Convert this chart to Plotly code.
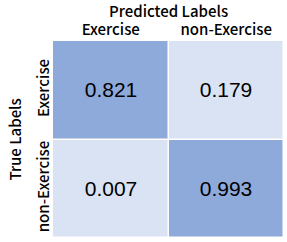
import plotly.graph_objects as go

pred_labels = ["Exercise", "non-Exercise"]
true_labels = ["Exercise", "non-Exercise"]
values = [[0.821, 0.179],
          [0.007, 0.993]]
x_title = "Predicted Labels"
y_title = "True Labels"

light = "#dae3f3"
dark = "#8eaadb"

fig = go.Figure(go.Heatmap(
    z=values, x=pred_labels, y=true_labels,
    text=[[f"{v:.3f}" for v in row] for row in values],
    texttemplate="%{text}",
    textfont=dict(family="Liberation Sans, Arial", size=21, color="black"),
    colorscale=[[0, light], [0.5, light], [0.5, dark], [1, dark]],
    zmin=0, zmax=1, showscale=False, xgap=1.5, ygap=1.5, hoverinfo="skip",
))

lab_font = dict(family="Noto Sans CJK SC", size=15, color="black", weight=500)
fig.update_layout(
    width=287, height=242,
    margin=dict(l=53, r=3, t=41, b=4),
    paper_bgcolor="white", plot_bgcolor="white",
    xaxis=dict(side="top", tickfont=lab_font, showgrid=False, zeroline=False,
               ticks="", automargin=False, ticklabelstandoff=2),
    yaxis=dict(autorange="reversed", tickfont=lab_font, tickangle=-90,
               showgrid=False, zeroline=False, ticks="", automargin=False,
               ticklabelstandoff=0),
    annotations=[
        dict(text=x_title, xref="paper", yref="paper", x=0.5, y=1,
             yshift=31, xanchor="center", yanchor="middle", showarrow=False,
             font=lab_font),
        dict(text=y_title, xref="paper", yref="paper", x=0, y=0.5,
             xshift=-39, xanchor="center", yanchor="middle", showarrow=False,
             textangle=-90, font=lab_font),
    ],
)
fig.write_html("out.html", config={"displayModeBar": False},
               post_script="document.body.style.margin='0';document.body.style.padding='0';")
